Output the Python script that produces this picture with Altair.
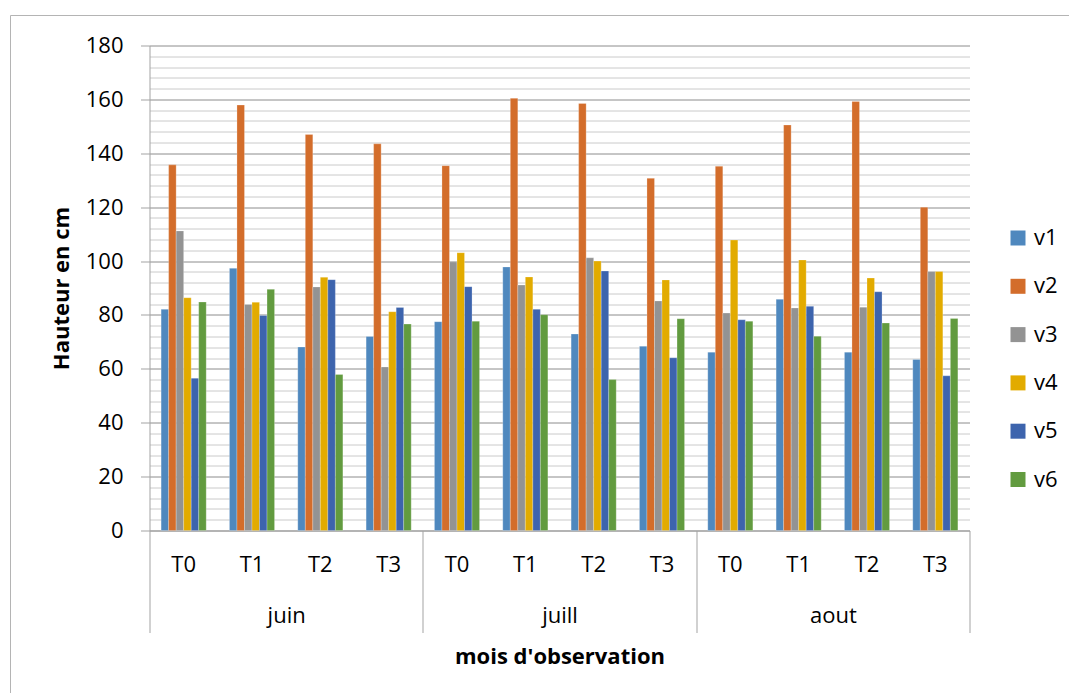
import altair as alt
import pandas as pd

# Plant height (cm) per variety, observation period and month
months = ["juin", "juill", "aout"]
periods = ["T0", "T1", "T2", "T3"]
series_names = ["v1", "v2", "v3", "v4", "v5", "v6"]
colors = ["#4f88be", "#d36d2b", "#939393", "#e2ab00", "#3d64ad", "#629b3f"]

# one value per (month, period), in order juin T0..T3, juill T0..T3, aout T0..T3
v1 = [82.1, 97.3, 68.1, 72.0, 77.5, 97.8, 72.9, 68.4, 66.2, 85.8, 66.2, 63.5]
v2 = [135.7, 157.9, 147.0, 143.5, 135.4, 160.4, 158.5, 130.7, 135.2, 150.5, 159.2, 120.0]
v3 = [111.2, 83.9, 90.4, 60.7, 99.7, 91.1, 101.2, 85.2, 80.7, 82.6, 82.9, 96.1]
v4 = [86.4, 84.7, 94.0, 81.2, 103.1, 94.1, 100.0, 93.0, 107.8, 100.4, 93.7, 96.1]
v5 = [56.5, 79.8, 93.1, 82.8, 90.5, 82.1, 96.3, 64.1, 78.2, 83.2, 88.6, 57.4]
v6 = [84.8, 89.5, 57.9, 76.6, 77.7, 80.1, 56.0, 78.6, 77.7, 72.1, 77.0, 78.7]

heights = {"v1": v1, "v2": v2, "v3": v3, "v4": v4, "v5": v5, "v6": v6}

categories = [f"{m}|{p}" for m in months for p in periods]
rows = []
for name in series_names:
    for i, val in enumerate(heights[name]):
        rows.append({"cat": categories[i], "mois": months[i // 4],
                     "periode": periods[i % 4], "serie": name, "hauteur": val})
df = pd.DataFrame(rows)

FONT = "Open Sans"
GRID_MAJOR = "#8c8c8c"
GRID_MINOR = "#cacaca"
AXIS_GRAY = "#a3a3a3"
W = 820
H = 485
LEFT, TOP = 149.5, 45.5

bars = alt.Chart(df).mark_bar(stroke="white", strokeWidth=0.4, strokeOpacity=0.6).encode(
    x=alt.X("cat:N", sort=categories, title=None,
            scale=alt.Scale(paddingInner=0.34, paddingOuter=0.17),
            axis=alt.Axis(orient="bottom", labelAngle=0, ticks=False,
                          labelExpr="split(datum.value, '|')[1]",
                          domainColor=AXIS_GRAY, labelPadding=24,
                          labelFontSize=22, labelColor="#000000", labelFont=FONT)),
    xOffset=alt.XOffset("serie:N", sort=series_names,
                        scale=alt.Scale(paddingInner=0, paddingOuter=0)),
    y=alt.Y("hauteur:Q", title="Hauteur en cm",
            scale=alt.Scale(domain=[0, 180], nice=False),
            axis=alt.Axis(
                values=list(range(0, 181, 4)),
                labelExpr="datum.value % 20 === 0 ? datum.label : ''",
                gridColor={"condition": {"test": "datum.value % 20 === 0", "value": GRID_MAJOR},
                           "value": GRID_MINOR},
                tickColor={"condition": {"test": "datum.value % 20 === 0", "value": AXIS_GRAY},
                           "value": "transparent"},
                tickSize=9, labelPadding=17.5, domainColor=AXIS_GRAY,
                labelFontSize=22, labelColor="#000000", labelFont=FONT,
                titleFontSize=22, titleFont=FONT, titleFontWeight="bold",
                titleColor="#000000", titlePadding=12)),
    color=alt.Color("serie:N", sort=series_names,
                    scale=alt.Scale(domain=series_names, range=colors),
                    legend=alt.Legend(title=None, orient="none",
                                      legendX=1007 - LEFT, legendY=238 - 11 - TOP,
                                      padding=0, symbolType="square", symbolSize=225,
                                      symbolStrokeWidth=0, labelFontSize=22,
                                      labelFont=FONT, labelColor="#000000",
                                      labelOffset=5, rowPadding=26.3)),
)

# month row of the category axis, with separators between the months
month_axis = alt.Chart(df).mark_point(opacity=0).encode(
    x=alt.X("mois:N", sort=months, title="mois d'observation",
            scale=alt.Scale(type="band", paddingInner=0, paddingOuter=0),
            axis=alt.Axis(orient="bottom", labelAngle=0, domain=False,
                          tickBand="extent", tickSize=102, tickColor=AXIS_GRAY,
                          labelPadding=-27, labelFontSize=22, labelFont=FONT,
                          labelColor="#000000", titleFontSize=22, titleFont=FONT,
                          titleFontWeight="bold", titleColor="#000000",
                          titlePadding=13)),
)

# thin frame around the chart area (left and top edges)
frame_df = pd.DataFrame({"edge": ["frame"]})
frame_left = alt.Chart(frame_df).mark_rule(color="#b4b4b4", strokeWidth=1).encode(
    x=alt.value(10.5 - LEFT), y=alt.value(15.5 - TOP), y2=alt.value(693 - TOP))
frame_top = alt.Chart(frame_df).mark_rule(color="#b4b4b4", strokeWidth=1).encode(
    x=alt.value(10.5 - LEFT), x2=alt.value(1069 - LEFT), y=alt.value(15.5 - TOP))

chart = alt.layer(bars, month_axis, frame_left, frame_top).resolve_scale(
    x="independent"
).properties(
    width=W, height=H,
    autosize=alt.AutoSizeParams(type="none"),
    padding={"left": LEFT, "top": TOP, "right": 1069 - LEFT - W, "bottom": 693 - TOP - H},
    background="white",
).configure_view(stroke=None)

chart.save("out.html", embed_options={"renderer": "svg", "actions": False})
